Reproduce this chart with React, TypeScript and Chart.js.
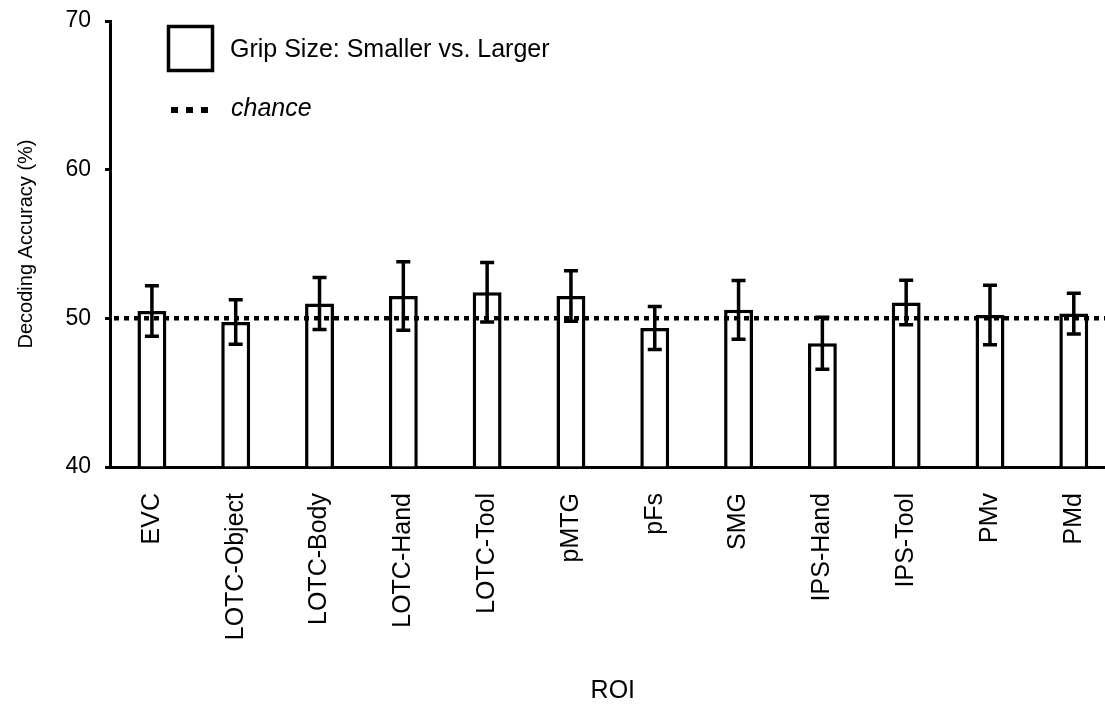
import React, { useEffect, useRef } from "react";
import { Chart, registerables } from "chart.js";

Chart.register(...registerables);

const categories = [
  "EVC",
  "LOTC-Object",
  "LOTC-Body",
  "LOTC-Hand",
  "LOTC-Tool",
  "pMTG",
  "pFs",
  "SMG",
  "IPS-Hand",
  "IPS-Tool",
  "PMv",
  "PMd",
];
const accuracy = [50.5, 49.75, 51.0, 51.5, 51.75, 51.5, 49.35, 50.57, 48.33, 51.07, 50.22, 50.32];
const errors = [1.7, 1.5, 1.75, 2.3, 2.0, 1.7, 1.45, 1.97, 1.75, 1.5, 2.0, 1.37];
const chanceLevel = 50;
const yMin = 40;
const yMax = 70;
const yStep = 10;
const seriesLabel = "Grip Size: Smaller vs. Larger";
const chanceLabel = "chance";
const yTitle = "Decoding Accuracy (%)";
const xTitle = "ROI";

const FONT = "'Liberation Sans', Arial, Helvetica, sans-serif";

const overlayPlugin = {
  id: "overlay",
  afterDatasetsDraw(chart: any) {
    const { ctx, chartArea, scales } = chart;
    const y = scales.y;
    // chance line
    ctx.save();
    ctx.beginPath();
    ctx.rect(chartArea.left, chartArea.top, chartArea.right - chartArea.left, chartArea.bottom - chartArea.top);
    ctx.clip();
    const cy = y.getPixelForValue(chanceLevel);
    ctx.setLineDash([5, 5]);
    ctx.lineWidth = 4.5;
    ctx.strokeStyle = "#000";
    ctx.beginPath();
    ctx.moveTo(chartArea.left + 4, cy);
    ctx.lineTo(chartArea.right, cy);
    ctx.stroke();
    ctx.restore();

    // error bars
    const meta = chart.getDatasetMeta(0);
    ctx.save();
    ctx.strokeStyle = "#000";
    ctx.lineWidth = 3.5;
    ctx.lineCap = "butt";
    meta.data.forEach((bar: any, i: number) => {
      const x = bar.x;
      const top = y.getPixelForValue(accuracy[i] + errors[i]);
      const bot = y.getPixelForValue(accuracy[i] - errors[i]);
      const cap = 7;
      ctx.beginPath();
      ctx.moveTo(x, top);
      ctx.lineTo(x, bot);
      ctx.moveTo(x - cap, top);
      ctx.lineTo(x + cap, top);
      ctx.moveTo(x - cap, bot);
      ctx.lineTo(x + cap, bot);
      ctx.stroke();
    });
    ctx.restore();
  },
  afterDraw(chart: any) {
    const { ctx, chartArea } = chart;
    const lx = chartArea.left + 57;
    const ly = chartArea.top + 4;
    ctx.save();
    // bar legend box
    ctx.strokeStyle = "#000";
    ctx.lineWidth = 3.5;
    ctx.fillStyle = "#fff";
    ctx.fillRect(lx + 1.5, ly + 1.5, 44, 44);
    ctx.strokeRect(lx + 1.5, ly + 1.5, 44, 44);
    ctx.fillStyle = "#000";
    ctx.textBaseline = "middle";
    ctx.textAlign = "left";
    ctx.font = `25px ${FONT}`;
    ctx.fillText(chart.data.datasets[0].label, lx + 63, ly + 25);
    // chance legend
    for (let k = 0; k < 3; k++) {
      ctx.fillRect(lx + 4 + k * 15, ly + 82, 7, 6);
    }
    ctx.font = `italic 25px ${FONT}`;
    ctx.fillText(chanceLabel, lx + 64, ly + 84);
    ctx.restore();
  },
};

export default function App() {
  const canvasRef = useRef<HTMLCanvasElement | null>(null);

  useEffect(() => {
    if (!canvasRef.current) return;
    const chart = new Chart(canvasRef.current, {
      type: "bar",
      data: {
        labels: categories,
        datasets: [
          {
            label: seriesLabel,
            data: accuracy,
            base: yMin,
            backgroundColor: "#ffffff",
            borderColor: "#000000",
            borderWidth: 3.5,
            barPercentage: 0.345,
            categoryPercentage: 1,
          } as any,
        ],
      },
      options: {
        responsive: false,
        animation: false,
        devicePixelRatio: 1,
        layout: { padding: { top: 21, right: 5, left: 0, bottom: 0 } },
        plugins: {
          legend: { display: false },
          tooltip: { enabled: false },
        },
        scales: {
          x: {
            grid: { display: false, drawTicks: false },
            border: { display: true, color: "#000", width: 3 },
            ticks: {
              color: "#000",
              font: { family: FONT, size: 25 },
              minRotation: 90,
              maxRotation: 90,
              autoSkip: false,
              padding: 26,
            },
            title: {
              display: true,
              text: xTitle,
              color: "#000",
              font: { family: FONT, size: 25 },
              padding: { top: 0, bottom: 0 },
            },
            afterFit(scale: any) {
              scale.height = 239;
            },
          },
          y: {
            min: yMin,
            max: yMax,
            grid: {
              display: true,
              drawOnChartArea: false,
              drawTicks: true,
              tickLength: 5,
              tickWidth: 3,
              tickColor: "#000",
            },
            border: { display: true, color: "#000", width: 3 },
            ticks: {
              stepSize: yStep,
              color: "#000",
              font: { family: FONT, size: 23 },
              padding: 14,
            },
            title: {
              display: true,
              text: yTitle,
              color: "#000",
              font: { family: FONT, size: 20 },
              padding: { top: 14, bottom: 0 },
            },
            afterFit(scale: any) {
              scale.width = 110;
              scale.paddingTop = 0;
              scale.paddingBottom = 0;
            },
          },
        },
      } as any,
      plugins: [overlayPlugin],
    });
    return () => chart.destroy();
  }, []);

  return (
    <div
      style={{
        position: "fixed",
        left: 0,
        top: 0,
        width: "1105px",
        height: "706px",
        overflow: "hidden",
        background: "#fff",
      }}
    >
      <canvas ref={canvasRef} width={1130} height={706} style={{ display: "block" }} />
    </div>
  );
}
